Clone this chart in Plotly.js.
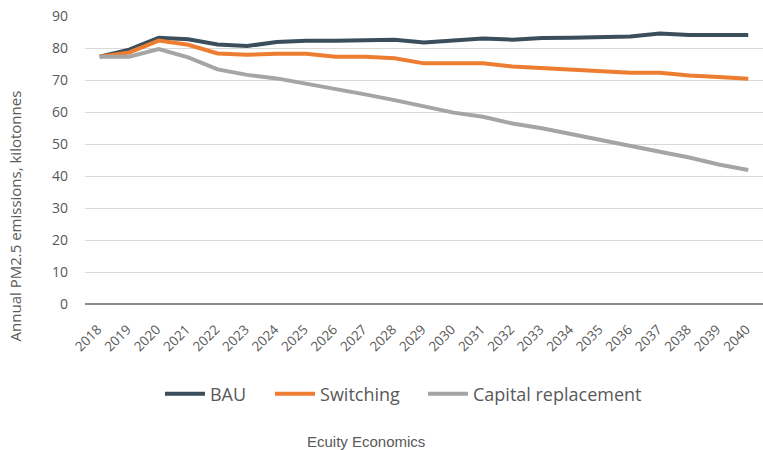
<!DOCTYPE html>
<html>
<head>
<meta charset="utf-8">
<script src="https://cdn.plot.ly/plotly-3.0.1.min.js"></script>
<style>html,body{margin:0;padding:0;background:#fff;}#chart{width:763px;height:450px;}</style>
</head>
<body>
<div id="chart"></div>
<script>
const years = ["2018","2019","2020","2021","2022","2023","2024","2025","2026","2027","2028","2029","2030","2031","2032","2033","2034","2035","2036","2037","2038","2039","2040"];
const bau = [77.3,79.5,83.2,82.7,81.1,80.6,81.9,82.3,82.3,82.6,82.6,81.7,82.4,83.0,82.6,83.1,83.2,83.5,83.6,84.5,84.1,84.1,84.1];
const switching = [77.3,78.6,82.3,81.0,78.3,77.9,78.2,78.2,77.3,77.3,76.8,75.2,75.2,75.2,74.2,73.7,73.2,72.7,72.3,72.3,71.4,70.9,70.4];
const capital = [77.3,77.3,79.7,77.1,73.3,71.6,70.5,68.9,67.3,65.5,63.7,61.6,59.8,58.5,56.4,54.9,53.0,51.1,49.3,47.6,45.8,43.6,41.9];
const seriesNames = ["BAU","Switching","Capital replacement"];
const colors = ["#3B4E5C","#ED7D31","#A5A5A5"];
const yTitle = "Annual PM2.5 emissions, kilotonnes";
const source = "Ecuity Economics";

const legendIds = ["legend","legend2","legend3"];
const legendX = [0.1106, 0.2729, 0.4985];

const data = [bau, switching, capital].map((vals, i) => ({
  x: years, y: vals, type: "scatter", mode: "lines", name: seriesNames[i],
  legend: legendIds[i],
  line: {color: colors[i], width: 4}, hoverinfo: "x+y+name"
}));

function mkLegend(x) {
  return {orientation: "h", x: x, xanchor: "left", y: -0.3125, yanchor: "middle",
    font: {size: 18, color: "#595959"}, itemwidth: 40, bgcolor: "rgba(0,0,0,0)"};
}

const layout = {
  width: 763, height: 450,
  margin: {l: 85, r: 0, t: 16, b: 146, pad: 0},
  paper_bgcolor: "#fff", plot_bgcolor: "#fff",
  font: {family: "Open Sans, Liberation Sans, sans-serif", color: "#595959"},
  showlegend: true,
  legend: mkLegend(legendX[0]),
  legend2: mkLegend(legendX[1]),
  legend3: mkLegend(legendX[2]),
  xaxis: {type: "category", range: [-0.5, 22.5], tickangle: -45, showgrid: false,
    showline: false, zeroline: false, ticks: "", tickfont: {size: 13.5, color: "#595959"},
    ticklabelstandoff: 14, ticklabelshift: -2, automargin: false},
  yaxis: {range: [0, 90], dtick: 10, showgrid: true, gridcolor: "#D9D9D9", gridwidth: 1,
    zeroline: true, zerolinecolor: "#8C8C8C", zerolinewidth: 1.5, showline: false,
    tickfont: {size: 14, color: "#595959"}, ticklabelstandoff: 16, automargin: false},
  annotations: [
    {text: yTitle, xref: "paper", yref: "paper", x: (15-85)/678, y: 0.304, xanchor: "center", yanchor: "middle",
      textangle: -90, showarrow: false, font: {size: 15, color: "#595959"}},
    {text: source, xref: "paper", yref: "paper", x: (366-85)/678, y: (304-441)/288, xanchor: "center", yanchor: "middle",
      showarrow: false, font: {size: 15, color: "#595959", family: "Liberation Sans, Arial, sans-serif"}}
  ]
};

Plotly.newPlot("chart", data, layout, {displayModeBar: false, staticPlot: true});
</script>
</body>
</html>
